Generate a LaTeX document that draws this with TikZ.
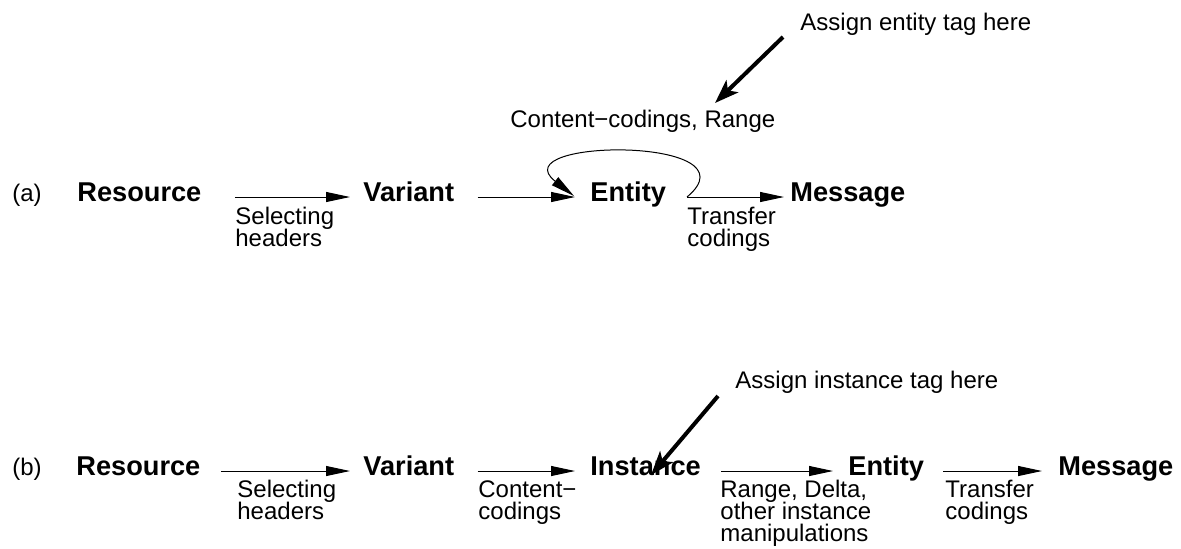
\documentclass[tikz,border=0pt]{standalone}
\usepackage{fontspec}
\setmainfont{Liberation Sans}
\usepackage{tikz}
\usetikzlibrary{arrows.meta,positioning}
\newcommand{\lblfont}{\fontsize{12pt}{11pt}\selectfont\setlength{\lineskiplimit}{-20pt}}

\begin{document}
\begin{tikzpicture}[x=0.5pt,y=-0.5pt,
  word/.style={inner sep=0pt,anchor=base west,text height=10pt,text depth=6pt,
               font=\fontsize{13.6pt}{15pt}\selectfont\bfseries},
  lbl/.style={inner sep=0pt,anchor=north west,align=left,font=\lblfont},
  tag/.style={inner sep=0pt,anchor=base west,font=\lblfont},
  flow/.style={line width=0.5pt,-{Triangle[length=12pt,width=5pt]}},
  tagarr/.style={line width=2pt,-{Stealth[length=12pt,width=8.5pt,inset=3pt]}}]
  \useasboundingbox (0,0) rectangle (1181,548);
  % (a)
  \node[tag] (la) at (12,201) {(a)};
  \node[word] (resA) at (77,201) {Resource};
  \node[word] (varA) at (363,201) {Variant};
  \node[word] (entA) at (590,201) {Entity};
  \node[word] (msgA) at (790,201) {Message};
  \foreach \a/\b/\s/\t in {resA/varA/16.5pt/6.5pt,varA/entA/11.5pt/7.5pt,entA/msgA/10.5pt/3pt}
    \draw[flow,shorten <=\s,shorten >=\t] (\a) -- (\b);
  \node[lbl] (selA) at (235,207) {Selecting\\headers};
  \node[lbl] (trA) at (687,207) {Transfer\\codings};
  \node[lbl] (ccA) at (510,110) {Content−codings, Range};
  \coordinate (loopS) at (687,197);
  \coordinate (loopE) at (574,196);
  \draw[flow] (loopS) .. controls (760,136) and (500,138) .. (loopE);
  \node[lbl] (tagA) at (800,13) {Assign entity tag here};
  \coordinate (tagAs) at (783,37);
  \coordinate (tagAe) at (715,103);
  \draw[tagarr] (tagAs) -- (tagAe);
  % (b)
  \node[tag] (lb) at (12,475) {(b)};
  \node[word] (resB) at (76,475) {Resource};
  \node[word] (varB) at (363,475) {Variant};
  \node[word] (insB) at (590,475) {Instance};
  \node[word] (entB) at (848,475) {Entity};
  \node[word] (msgB) at (1058,475) {Message};
  \foreach \a/\b/\s/\t in {resB/varB/10pt/6.5pt,varB/insB/11.5pt/7.5pt,
                           insB/entB/10pt/7.5pt,entB/msgB/9.5pt/8pt}
    \draw[flow,shorten <=\s,shorten >=\t] (\a) -- (\b);
  \node[lbl] (selB) at (237,480) {Selecting\\headers};
  \node[lbl] (ccB) at (478,480) {Content−\\codings};
  \node[lbl] (rgB) at (720,480) {Range, Delta,\\other instance\\manipulations};
  \node[lbl] (trB) at (945,480) {Transfer\\codings};
  \node[lbl] (tagB) at (735,371) {Assign instance tag here};
  \coordinate (tagBs) at (718,396);
  \draw[tagarr] (tagBs) -- (insB.base west -| 651,471);
\end{tikzpicture}
\end{document}
